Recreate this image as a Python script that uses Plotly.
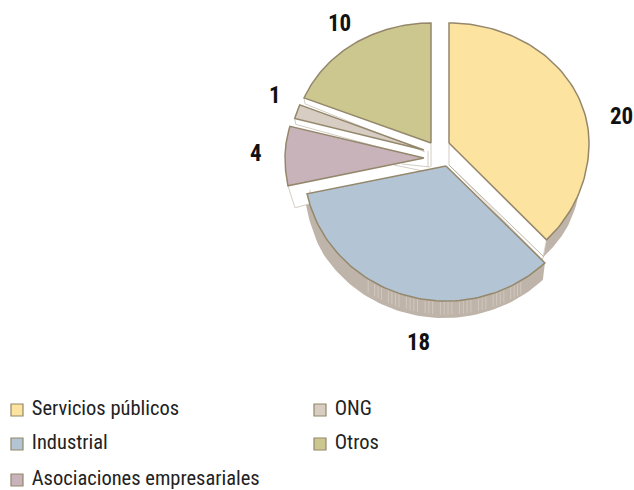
import numpy as np
import plotly.graph_objects as go

# ---------- data ----------
categories = ["Servicios públicos", "Industrial", "Asociaciones empresariales", "ONG", "Otros"]
values = [20, 18, 4, 1, 10]

# ---------- style ----------
fills = ["#fde3a0", "#b3c5d4", "#c9b3ba", "#d8cdc3", "#ccc78e"]
EDGE = "#94876b"
WALL = "#bfb4a9"
THIN = "#c9c0b5"
FONT = "Roboto Condensed, Open Sans Condensed, Liberation Sans, sans-serif"
apex_x = [449, 446, 424, 424, 431]     # exploded slice tips (pixels)
apex_y = [143, 166, 158, 150, 143]
radius_x = [140, 142, 139, 134, 137]
R_UP, R_DOWN = 120, 135                # perspective: near half looks larger
label_x = [621, 418, 256, 275, 339]
label_y = [116, 342, 153, 95, 23]
key_x = [17, 17, 17, 320, 320]
key_y = [410, 444, 480, 410, 444]

total = sum(values)
edges = np.cumsum([0] + values) / total * 2 * np.pi


def rim(i, t):
    t = np.asarray(t)
    c = np.cos(t)
    return apex_x[i] + radius_x[i] * np.sin(t), apex_y[i] - np.where(c > 0, R_UP, R_DOWN) * c


def wedge(i):
    t = np.linspace(edges[i], edges[i + 1], 80)
    x, y = rim(i, t)
    return np.r_[apex_x[i], x, apex_x[i]], np.r_[apex_y[i], y, apex_y[i]]


fig = go.Figure()


def poly(x, y, fill, line=None, width=0.8):
    fig.add_trace(go.Scatter(
        x=x, y=y, mode="lines", fill="toself", fillcolor=fill,
        line=dict(color=line or fill, width=width if line else 0),
        hoverinfo="skip", showlegend=False))


def segs(points, color=THIN, width=0.8):
    x, y = [], []
    for a, b, c, d in points:
        x += [a, c, None]
        y += [b, d, None]
    fig.add_trace(go.Scatter(x=x, y=y, mode="lines", line=dict(color=color, width=width),
                             hoverinfo="skip", showlegend=False))


def outer_wall(i, t0, t1, depth, shift=0.0):
    t = np.linspace(t0, t1, 80)
    x, y = rim(i, t)
    d = depth * np.minimum(1.0, np.abs(np.cos(t)) * 2.0)
    poly(np.r_[x, (x + shift)[::-1]], np.r_[y, (y + d)[::-1]], WALL)
    return t, x, y, d


outer_wall(0, np.radians(112), edges[1], 17, -3)
t, xw, yw, dw = outer_wall(1, edges[1], edges[2], 17, -2)
streaks = []
for k in np.linspace(8, 50, 34):
    j = int(k)
    streaks.append((xw[j], yw[j] + 1, xw[j], yw[j] + dw[j] * 0.8))
segs(streaks, "#dcd5cc", 0.6)

x0, y0 = rim(0, edges[1])
poly([apex_x[0], apex_x[0], x0 - 4, x0], [apex_y[0], apex_y[0] + 22, y0 + 20, y0], "#ffffff", THIN)
x2a, y2a = rim(2, edges[2])
poly([x2a, x2a + 7, x2a + 22, x2a + 22], [y2a, y2a + 22, y2a + 18, y2a + 4], "#ffffff", THIN)
x3, y3 = rim(4, edges[4])
x4, y4 = rim(3, edges[3])
segs([
    (x3, y3, x3 + 1, y3 + 6),
    (x3 + 1, y3 + 6, apex_x[4] - 6, apex_y[4] + 9),
    (x4, y4, x4 + 1, y4 + 6),
    (x4 + 1, y4 + 6, apex_x[3] - 2, apex_y[3] + 9),
    (apex_x[4], apex_y[4], apex_x[4], apex_y[4] + 24),
    (apex_x[4] - 3, apex_y[4] + 8, apex_x[4] - 3, apex_y[4] + 24),
    (apex_x[2] - 30, apex_y[2] + 7, apex_x[2] + 4, apex_y[2] + 14),
    (apex_x[2] - 22, apex_y[2] + 6, apex_x[2] + 6, apex_y[2] + 9),
])

for i in range(len(values)):
    x, y = wedge(i)
    poly(x, y, fills[i], EDGE, 1.5)

x1, y1 = rim(1, edges[1])
segs([(apex_x[1] + 3, apex_y[1] - 1, x1 - 1, y1 - 6)], "#b0a590", 0.8)

# key: swatch + text per category
for i, name in enumerate(categories):
    fig.add_trace(go.Scatter(
        x=[key_x[i]], y=[key_y[i]], mode="markers+text", name=name,
        text=["\u2004" + name], textposition="middle right",
        textfont=dict(family=FONT, size=20.5, color="#222222"),
        marker=dict(symbol="square", size=12, color=fills[i], line=dict(color=EDGE, width=1.2)),
        hoverinfo="name", showlegend=False, cliponaxis=False))

for i, v in enumerate(values):
    fig.add_annotation(x=label_x[i], y=label_y[i], text=f"<b>{v}</b>", showarrow=False,
                       font=dict(family=FONT, size=23, color="#111111"))

fig.update_layout(
    width=634, height=490, autosize=False,
    margin=dict(l=0, r=0, t=0, b=0),
    paper_bgcolor="white", plot_bgcolor="white",
    xaxis=dict(range=[0, 634], visible=False, fixedrange=True),
    yaxis=dict(range=[490, 0], visible=False, fixedrange=True),
    showlegend=False,
)
fig.write_html("out.html", config=dict(displayModeBar=False),
               post_script="document.body.style.margin='0';")
